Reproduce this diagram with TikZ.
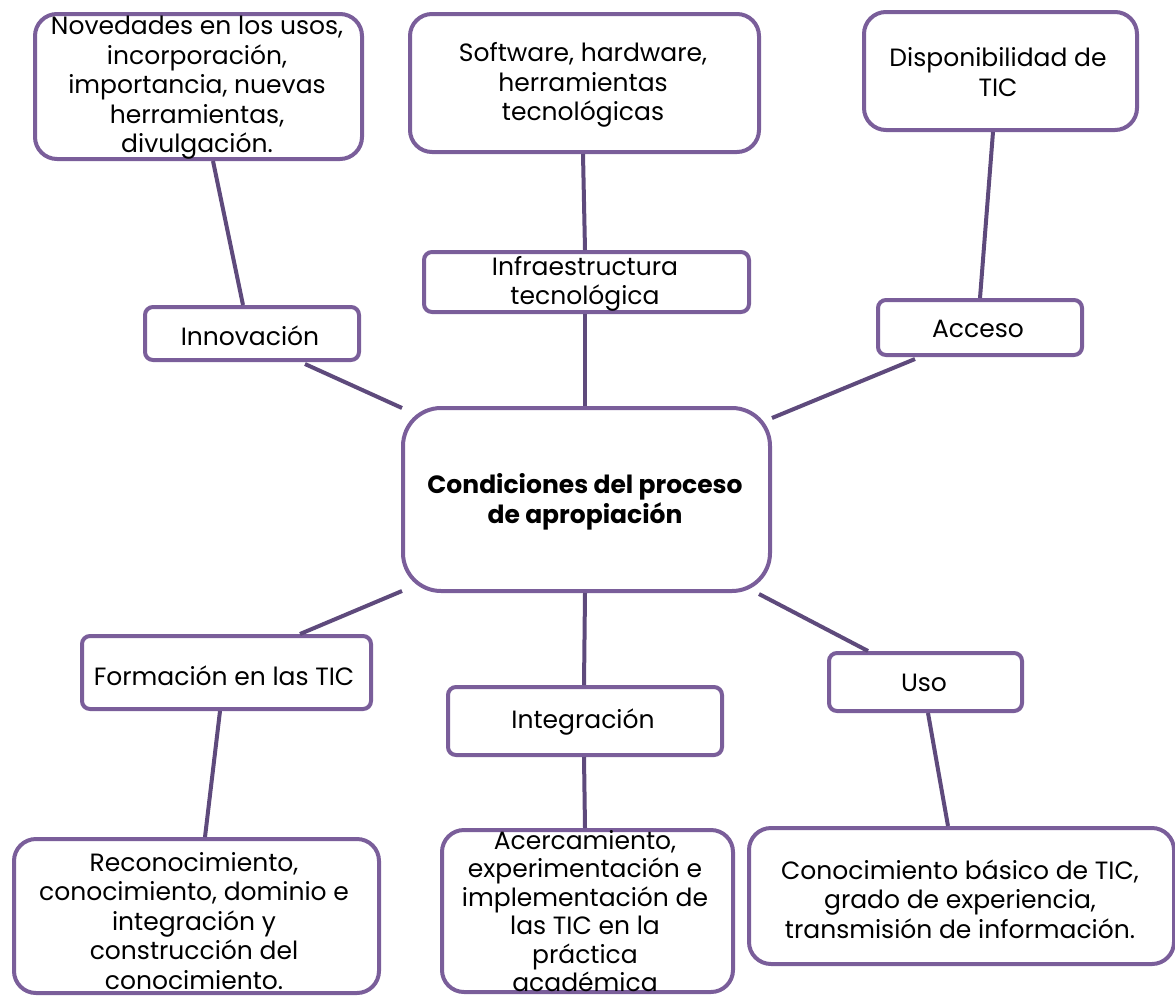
\documentclass[tikz,border=0pt]{standalone}
\usepackage{fontspec}
\setmainfont{Poppins}
\usetikzlibrary{calc}
\definecolor{boxc}{HTML}{7A5E9A}
\definecolor{linec}{HTML}{5E4A7C}
\begin{document}
\begin{tikzpicture}[x=1pt,y=-1pt,
 box/.style={draw=boxc,line width=4pt,fill=white,inner sep=0pt,anchor=north west},
 bigr/.style={rounded corners=22pt},
 smr/.style={rounded corners=8pt},
 txt/.style={align=center,inner sep=0pt,font=\fontsize{25}{29.5}\selectfont},
 conn/.style={draw=linec,line width=4pt}]
\useasboundingbox (0,0) rectangle (1175,996);
% boxes
\node[box,bigr,minimum width=327pt,minimum height=145pt] (nov) at (33,12) {};
\node[box,bigr,minimum width=349pt,minimum height=138pt] (sw) at (408,12) {};
\node[box,bigr,minimum width=273pt,minimum height=118pt] (disp) at (862,10) {};
\node[box,smr,minimum width=325pt,minimum height=60pt] (inf) at (422,250) {};
\node[box,smr,minimum width=214pt,minimum height=53pt] (inn) at (143,305) {};
\node[box,smr,minimum width=204pt,minimum height=55pt] (acc) at (876,298) {};
\node[box,rounded corners=38pt,minimum width=367pt,minimum height=183pt] (cen) at (401,406) {};
\node[box,smr,minimum width=289pt,minimum height=73pt] (for) at (80,634) {};
\node[box,smr,minimum width=274pt,minimum height=68pt] (int) at (446,685) {};
\node[box,smr,minimum width=193pt,minimum height=58pt] (uso) at (827,651) {};
\node[box,bigr,minimum width=365pt,minimum height=154pt] (rec) at (12,837) {};
\node[box,bigr,minimum width=291pt,minimum height=162pt] (ace) at (440,828) {};
\node[box,bigr,minimum width=425pt,minimum height=136pt] (con) at (747,826) {};
% connectors
\draw[conn] ($(nov.south west)+(180,0)$) -- ($(inn.north west)+(100,0)$);
\draw[conn] ($(sw.south west)+(175,0)$) -- ($(inf.north west)+(163,0)$);
\draw[conn] ($(disp.south west)+(131,0)$) -- ($(acc.north west)+(104,0)$);
\draw[conn] ($(inf.south west)+(163,0)$) -- ($(cen.north west)+(184,0)$);
\draw[conn] ($(inn.south west)+(162,2)$) -- ($(cen.north west)+(1,2)$);
\draw[conn] ($(acc.south west)+(39,2)$) -- ($(cen.north east)+(0,12)$);
\draw[conn] ($(cen.south west)+(1,-2)$) -- ($(for.north west)+(220,0)$);
\draw[conn] ($(cen.south west)+(184,0)$) -- ($(int.north west)+(138,0)$);
\draw[conn] ($(cen.south east)+(-13,1)$) -- ($(uso.north west)+(41,0)$);
\draw[conn] ($(for.south west)+(140,0)$) -- ($(rec.north west)+(193,0)$);
\draw[conn] ($(int.south west)+(138,0)$) -- ($(ace.north west)+(145,0)$);
\draw[conn] ($(uso.south west)+(101,0)$) -- ($(con.north west)+(201,0)$);
% texts
\node[txt] (novt) at (197,88) {Novedades en los usos,\\incorporación,\\importancia, nuevas\\herramientas,\\divulgación.};
\node[txt] (swt) at (583,85) {Software, hardware,\\herramientas\\tecnológicas};
\node[txt] (dispt) at (998,72) {Disponibilidad de\\TIC};
\node[txt] (inft) at (585,284) {Infraestructura\\tecnológica};
\node[txt] (innt) at (250,336) {Innovación};
\node[txt] (acct) at (978,329) {Acceso};
\node[txt,font=\fontsize{25}{29.5}\selectfont\bfseries] (cent) at (585,502) {Condiciones del proceso\\de apropiación};
\node[txt] (fort) at (224,676) {Formación en las TIC};
\node[txt] (intt) at (583,722) {Integración};
\node[txt] (usot) at (924,683) {Uso};
\node[txt] (rect) at (194,921) {Reconocimiento,\\conocimiento, dominio e\\integración y\\construcción del\\conocimiento.};
\node[txt,font=\fontsize{25}{28.5}\selectfont] (acet) at (585,911) {Acercamiento,\\experimentación e\\implementación de\\las TIC en la\\práctica\\académica};
\node[txt] (cont) at (960,899) {Conocimiento básico de TIC,\\grado de experiencia,\\transmisión de información.};
\end{tikzpicture}
\end{document}
